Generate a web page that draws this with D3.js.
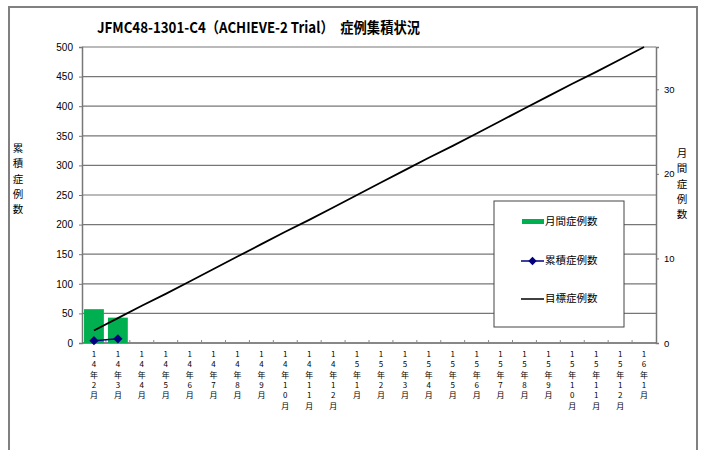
<!DOCTYPE html>
<html>
<head>
<meta charset="utf-8">
<script src="https://cdn.jsdelivr.net/npm/d3@7"></script>
<style>
  html, body { margin: 0; padding: 0; background: #fff; }
  svg { display: block; font-family: "Liberation Sans Narrow", "DejaVu Sans Condensed", "Noto Sans CJK JP", sans-serif; }
</style>
</head>
<body>
<svg id="chart" width="702" height="450"></svg>
<script>
// 月ごとのカテゴリ (縦書きラベル用に1文字ずつ分ける)
const MONTHS = [
  '14年2月', '14年3月', '14年4月', '14年5月', '14年6月', '14年7月', '14年8月', '14年9月',
  '14年10月', '14年11月', '14年12月', '15年1月', '15年2月', '15年3月', '15年4月', '15年5月',
  '15年6月', '15年7月', '15年8月', '15年9月', '15年10月', '15年11月', '15年12月', '16年1月'
];
const MONTHLY = [4, 3];            // 月間症例数 (右軸)
const CUMULATIVE = [4, 7];         // 累積症例数 (左軸)
const TARGET = [21, 42, 63, 83, 104, 125, 146, 167, 188, 208, 229, 250,
                271, 292, 313, 333, 354, 375, 396, 417, 438, 458, 479, 500]; // 目標症例数
const LEFT_TICKS = [0, 50, 100, 150, 200, 250, 300, 350, 400, 450, 500];
const RIGHT_TICKS = [0, 10, 20, 30];

const svg = d3.select('#chart');
const links = 82, rechts = 656, boven = 47, onder = 343;

// 外枠
svg.append('path')
  .attr('d', 'M9,460 V7 H697 V460')
  .attr('fill', 'none').attr('stroke', '#808080').attr('stroke-width', 2);

// タイトル
svg.append('text')
  .attr('x', 97).attr('y', 33)
  .attr('textLength', 323).attr('lengthAdjust', 'spacingAndGlyphs')
  .style('font-family', '"Noto Sans CJK JP", sans-serif')
  .style('font-weight', 'bold').style('font-size', '15px')
  .text('JFMC48-1301-C4（ACHIEVE-2 Trial）　症例集積状況');

const x = d3.scaleBand().domain(MONTHS).range([links, rechts]).paddingInner(0.17).paddingOuter(0.085);
const xCenter = d3.scaleBand().domain(MONTHS).range([links, rechts]);
const yL = d3.scaleLinear().domain([0, 500]).range([onder, boven]);
const yR = d3.scaleLinear().domain([0, 35]).range([onder, boven]);

// グリッド線
svg.append('g').selectAll('line').data(LEFT_TICKS).join('line')
  .attr('x1', links).attr('x2', rechts)
  .attr('y1', d => yL(d)).attr('y2', d => yL(d))
  .attr('stroke', '#777').attr('stroke-width', 1.2);

// 左軸
const axL = svg.append('g').attr('transform', `translate(${links},0)`)
  .call(d3.axisLeft(yL).tickValues(LEFT_TICKS).tickSize(3).tickPadding(6));
axL.select('.domain').attr('stroke', '#777').attr('stroke-width', 1.5);
axL.selectAll('.tick line').attr('stroke', '#777');
axL.selectAll('text').style('font-size', '10px').attr('fill', '#000');

// 右軸
const axR = svg.append('g').attr('transform', `translate(${rechts},0)`)
  .call(d3.axisRight(yR).tickValues(RIGHT_TICKS).tickSize(3).tickPadding(5));
axR.select('.domain').attr('stroke', '#777').attr('stroke-width', 1.5);
axR.selectAll('.tick line').attr('stroke', '#777');
axR.selectAll('text').style('font-size', '9.5px').attr('fill', '#000');

// 下軸 (目盛は内向き)
svg.append('line').attr('x1', links).attr('x2', rechts).attr('y1', onder).attr('y2', onder)
  .attr('stroke', '#777').attr('stroke-width', 1.5);
svg.append('g').selectAll('line').data(MONTHS.slice(1)).join('line')
  .attr('x1', d => xCenter(d)).attr('x2', d => xCenter(d))
  .attr('y1', onder).attr('y2', onder - 3)
  .attr('stroke', '#888');

// 縦書きの月ラベル
const lbl = svg.append('g').selectAll('text').data(MONTHS).join('text')
  .attr('text-anchor', 'middle')
  .style('font-size', '8px')
  .style('font-family', '"Noto Sans CJK JP", sans-serif');
lbl.each(function(d) {
  const cx = xCenter(d) + xCenter.bandwidth() / 2;
  d3.select(this).selectAll('tspan').data(Array.from(d)).join('tspan')
    .attr('x', cx).attr('y', (c, i) => 357 + i * 10.3)
    .text(c => c);
});

// 月間症例数 (棒)
svg.append('g').selectAll('rect').data(MONTHLY).join('rect')
  .attr('x', (d, i) => x(MONTHS[i]))
  .attr('width', x.bandwidth())
  .attr('y', d => yR(d))
  .attr('height', d => onder - yR(d))
  .attr('fill', '#00B050');

const cx = (d, i) => xCenter(MONTHS[i]) + xCenter.bandwidth() / 2;

// 目標症例数
svg.append('path').datum(TARGET)
  .attr('d', d3.line().x(cx).y(d => yL(d)))
  .attr('fill', 'none').attr('stroke', '#000').attr('stroke-width', 1.8);

// 累積症例数
svg.append('path').datum(CUMULATIVE)
  .attr('d', d3.line().x(cx).y(d => yL(d)))
  .attr('fill', 'none').attr('stroke', '#000080').attr('stroke-width', 1.5);
svg.append('g').selectAll('path').data(CUMULATIVE).join('path')
  .attr('d', d3.symbol(d3.symbolDiamond2, 55))
  .attr('transform', (d, i) => `translate(${cx(d, i)},${yL(d)})`)
  .attr('fill', '#000080');

// 凡例
const lg = svg.append('g');
lg.append('rect').attr('x', 494).attr('y', 201).attr('width', 130).attr('height', 126)
  .attr('fill', '#fff').attr('stroke', '#444').attr('stroke-width', 1);
lg.append('rect').attr('x', 522).attr('y', 219).attr('width', 22).attr('height', 5).attr('fill', '#00B050');
lg.append('line').attr('x1', 521).attr('x2', 544).attr('y1', 261).attr('y2', 261)
  .attr('stroke', '#000080').attr('stroke-width', 1.5);
lg.append('path').attr('d', d3.symbol(d3.symbolDiamond2, 45))
  .attr('transform', 'translate(532.5,261)').attr('fill', '#000080');
lg.append('line').attr('x1', 521).attr('x2', 544).attr('y1', 299).attr('y2', 299)
  .attr('stroke', '#000').attr('stroke-width', 1.5);
const legTexts = ['月間症例数', '累積症例数', '目標症例数'];
lg.selectAll('text.leg').data(legTexts).join('text').attr('class', 'leg')
  .attr('x', 545).attr('y', (d, i) => 225 + i * 38.5)
  .style('font-size', '10.5px')
  .style('font-family', '"Noto Sans CJK JP", sans-serif')
  .text(d => d);

// 軸タイトル (縦書き)
function vertTitle(tekst, xpos, y0) {
  svg.append('text').attr('text-anchor', 'middle')
    .style('font-size', '10.5px')
    .style('font-family', '"Noto Sans CJK JP", sans-serif')
    .selectAll('tspan').data(Array.from(tekst)).join('tspan')
    .attr('x', xpos).attr('y', (c, i) => y0 + i * 15.3)
    .text(c => c);
}
vertTitle('累積症例数', 18, 152);
vertTitle('月間症例数', 682, 157);
</script>
</body>
</html>
